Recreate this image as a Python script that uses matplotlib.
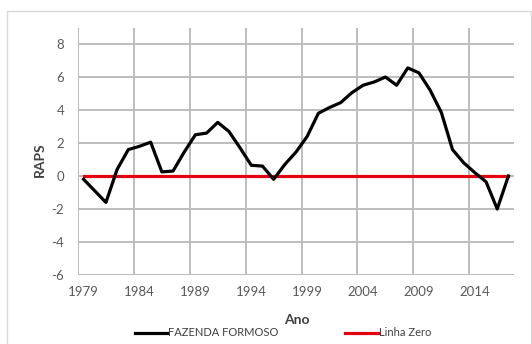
import numpy as np
import matplotlib.pyplot as plt
from matplotlib.lines import Line2D

plt.rcParams['font.family'] = ['Lato', 'DejaVu Sans']
plt.rcParams['axes.unicode_minus'] = False

anos = list(range(1979, 2018))
raps = [-0.2, -0.9, -1.6, 0.4, 1.6, 1.8, 2.05, 0.25, 0.3, 1.45, 2.5, 2.6, 3.25, 2.7,
        1.7, 0.65, 0.6, -0.2, 0.7, 1.45, 2.4, 3.8, 4.15, 4.45, 5.05, 5.5, 5.7, 6.0,
        5.5, 6.55, 6.25, 5.2, 3.85, 1.6, 0.8, 0.2, -0.35, -2.0, 0.0]
zero = [0.0] * len(anos)
tick_anos = [1979, 1984, 1989, 1994, 1999, 2004, 2009, 2014]

fig = plt.figure(figsize=(5.32, 3.44), dpi=100)
ax = fig.add_axes([78/532, 1 - 275/344, (514 - 78)/532, (275 - 27.5)/344])

x = np.arange(len(anos))

# gridlines between categories, like the spreadsheet
ax.set_axisbelow(True)
ax.set_yticks(range(-6, 9, 2))
ax.set_xticks(np.arange(-0.5, len(anos), 5), minor=True)
ax.grid(True, axis='y', which='major', color='#bdbdbd', lw=1.4)
ax.grid(True, axis='x', which='minor', color='#bdbdbd', lw=1.4)

ax.plot(x, zero, color='#e3000f', lw=2.3, zorder=3)
ax.plot(x, raps, color='black', lw=2.3, zorder=4)

ax.set_xlim(-0.5, len(anos) - 0.5)
ax.set_ylim(-6, 9)
ax.set_xticks([anos.index(a) for a in tick_anos])
ax.set_xticklabels([str(a) for a in tick_anos])

for s in ax.spines.values():
    s.set_visible(False)
ax.tick_params(which='both', length=0, labelsize=9.5, labelcolor='#595959')
ax.tick_params(axis='x', pad=8)
ax.tick_params(axis='y', pad=10)

fig.text(40/532, 1 - 160/344, 'RAPS', rotation=90, fontsize=10, fontweight='bold',
         color='#404040', ha='center', va='center')
fig.text(297/532, 1 - 320/344, 'Ano', fontsize=10, fontweight='bold',
         color='#404040', ha='center', va='center')

handles = [Line2D([], [], color='black', lw=2.3), Line2D([], [], color='#e3000f', lw=2.3)]
fig.legend(handles, ['FAZENDA FORMOSO', 'Linha Zero'], loc='center',
           bbox_to_anchor=(283/532, 1 - 333/344), ncol=2, frameon=False,
           fontsize=8, handlelength=2.9, handletextpad=0.1, columnspacing=6.0,
           labelcolor='#404040')

# chart border
fig.add_artist(plt.Rectangle((7/532, -0.05), (531 - 7)/532, 1 - 11/344 + 0.05,
                             transform=fig.transFigure, fill=False,
                             edgecolor='#d9d9d9', lw=1))

fig.savefig('out.png', dpi=100, facecolor='white')
